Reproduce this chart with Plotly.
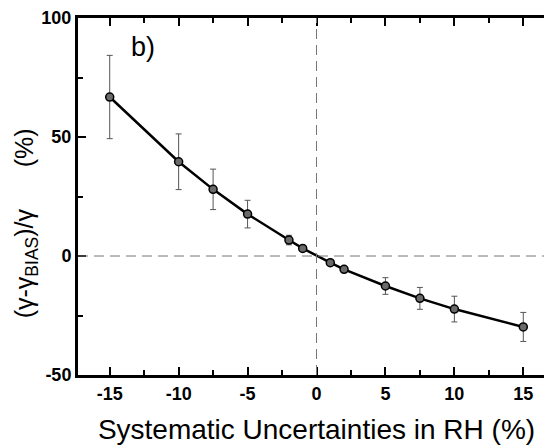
import plotly.graph_objects as go

rh_uncert = [-15, -10, -7.5, -5, -2, -1, 1, 2, 5, 7.5, 10, 15]
gamma_bias = [66.8, 39.6, 28.0, 17.6, 6.7, 3.2, -2.8, -5.6, -12.6, -17.8, -22.3, -29.8]
err = [17.5, 11.7, 8.5, 5.8, 2.0, 1.0, 1.0, 1.0, 3.5, 4.6, 5.4, 6.1]

x_ticks = [-15, -10, -5, 0, 5, 10, 15]
y_ticks = [-50, 0, 50, 100]

FONT = "Liberation Sans, Arial"

fig = go.Figure()
fig.add_hline(y=0, line=dict(color="#777777", width=1, dash="10px,6px"))
fig.add_vline(x=0, line=dict(color="#777777", width=1, dash="10px,6px"))

fig.add_trace(go.Scatter(
    x=rh_uncert, y=gamma_bias, mode="lines+markers",
    line=dict(color="black", width=2.5),
    marker=dict(size=8, color="#6a6a6a", line=dict(color="black", width=1.5)),
    error_y=dict(type="data", array=err, visible=True, color="#555555", thickness=1, width=3),
    showlegend=False,
))

fig.add_annotation(x=-13.6, y=88, text="b)", showarrow=False, xanchor="left",
                   font=dict(family=FONT, size=27, color="black"))
fig.add_annotation(xref="paper", yref="paper", x=-0.109, y=0.425, xanchor="center",
                   text="(γ-γ<sub>BIAS</sub>)/γ&#160;&#160;&#160;&#160;&#160;&#160;(%)",
                   textangle=-90, showarrow=False,
                   font=dict(family=FONT, size=25, color="black"))

fig.update_layout(
    width=552, height=448, autosize=False,
    margin=dict(l=70, r=5, t=10, b=81, autoexpand=False),
    plot_bgcolor="white", paper_bgcolor="white",
    font=dict(family=FONT, color="black"),
    xaxis=dict(
        range=[-17.3, 17.3], tickvals=x_ticks, ticktext=[str(v) for v in x_ticks],
        ticks="inside", ticklen=8, tickwidth=2, tickcolor="black",
        minor=dict(dtick=2.5, tick0=0, ticks="inside", ticklen=5, tickwidth=2, tickcolor="black"),
        showline=True, linewidth=3, linecolor="black", mirror="ticks",
        showgrid=False, zeroline=False, automargin=False,
        tickfont=dict(size=18, family=FONT, weight="bold"),
        title=dict(text="Systematic Uncertainties in RH (%)", font=dict(size=28), standoff=17),
    ),
    yaxis=dict(
        range=[-50, 100], tickvals=y_ticks, ticktext=[str(v) for v in y_ticks],
        ticks="inside", ticklen=8, tickwidth=2, tickcolor="black",
        minor=dict(dtick=25, tick0=0, ticks="inside", ticklen=5, tickwidth=2, tickcolor="black"),
        showline=True, linewidth=3, linecolor="black", mirror="ticks",
        showgrid=False, zeroline=False, automargin=False,
        tickfont=dict(size=18, family=FONT, weight="bold"),
    ),
)

fig.write_html("out.html")
